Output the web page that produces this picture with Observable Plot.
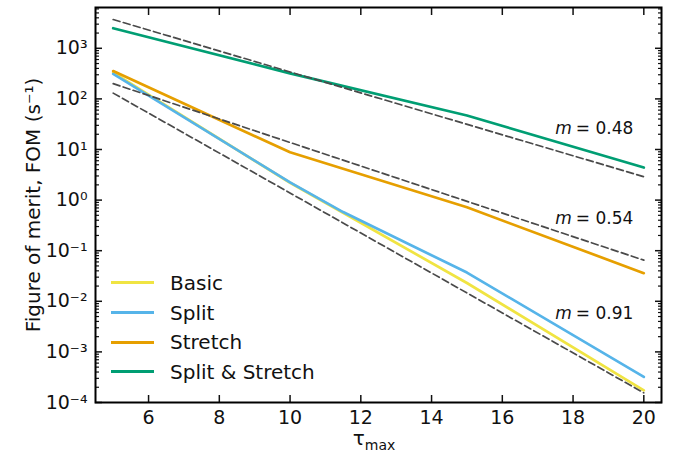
<!DOCTYPE html>
<html><head><meta charset="utf-8">
<script src="https://cdn.jsdelivr.net/npm/d3@7"></script>
<script src="https://cdn.jsdelivr.net/npm/@observablehq/plot@0.6"></script>
<style>
html,body{margin:0;padding:0;background:#fff;}
#wrap{position:relative;width:689px;height:462px;font-family:"DejaVu Sans",sans-serif;}
.legend{position:absolute;left:111px;top:268px;font-size:20px;color:#111;}
.item{display:flex;align-items:center;height:29.7px;}
.sw{width:43px;height:3px;margin-right:16px;}
</style></head><body><div id="wrap"></div>
<script>
// ---- data ----
const seriesNames  = ["Basic", "Split", "Stretch", "Split & Stretch"];
const seriesColors = ["#f0e442", "#56b4e9", "#e69f00", "#009e73"];

const tauBasic = [5, 10, 15, 20];
const fomBasic = [330, 2.2, 0.023, 1.74e-4];
const tauSplit = [5, 10, 11.5, 15, 20];
const fomSplit = [311, 2.24, 0.58, 0.037, 3.2e-4];
const tauStretch = [5, 10, 15, 20];
const fomStretch = [355, 8.8, 0.72, 0.036];
const tauSplitStretch = [5, 10, 15, 20];
const fomSplitStretch = [2490, 320, 47, 4.4];

// exponential fits (dashed), endpoints
const fitSlopes = ["0.48", "0.54", "0.91"];
const fitTau = [5, 20];
const fitStart = [3700, 200, 130];
const fitEnd = [2.9, 0.065, 1.55e-4];
const annTau = [18.02, 18.02, 18.02];
const annFom = [25.7, 0.43, 0.0056];

const xTicks = [6, 8, 10, 12, 14, 16, 18, 20];
const yMajor = [1e-4, 1e-3, 1e-2, 1e-1, 1, 10, 100, 1000];
const yMinorMult = [2, 3, 4, 5, 6, 7, 8, 9];
const xDomain = [4.5, 20.5];
const yDomain = [1e-4, 6400];

// ---- build tables ----
const seriesTau = [tauBasic, tauSplit, tauStretch, tauSplitStretch];
const seriesFom = [fomBasic, fomSplit, fomStretch, fomSplitStretch];
const lines = [];
seriesNames.forEach((name, i) => {
  seriesTau[i].forEach((t, j) => lines.push({series: name, tau: t, fom: seriesFom[i][j]}));
});
const fits = [];
fitSlopes.forEach((m, i) => {
  fits.push({fit: m, tau: fitTau[0], fom: fitStart[i]});
  fits.push({fit: m, tau: fitTau[1], fom: fitEnd[i]});
});
const ann = fitSlopes.map((m, i) => ({m, tau: annTau[i], fom: annFom[i]}));
const yMinor = [];
yMajor.forEach(d => yMinorMult.forEach(k => { const v = k * d; if (v <= yDomain[1]) yMinor.push(v); }));

const supMap = {"-": "\u207B", "0": "\u2070", "1": "\u00B9", "2": "\u00B2", "3": "\u00B3", "4": "\u2074", "5": "\u2075", "6": "\u2076", "7": "\u2077", "8": "\u2078", "9": "\u2079"};
const supFormat = d => "10" + String(Math.round(Math.log10(d))).split("").map(c => supMap[c]).join("");

const W = 689, H = 462, mL = 95, mR = 28, mT = 7, mB = 60;

const chart = Plot.plot({
  width: W, height: H,
  marginLeft: mL, marginRight: mR, marginTop: mT, marginBottom: mB,
  style: {fontFamily: "DejaVu Sans, sans-serif", fontSize: "19px", background: "white", color: "#111"},
  x: {domain: xDomain},
  y: {type: "log", domain: yDomain},
  color: {domain: seriesNames, range: seriesColors},
  marks: [
    Plot.line(lines, {x: "tau", y: "fom", z: "series", stroke: "series", strokeWidth: 2.7}),
    Plot.line(fits, {x: "tau", y: "fom", z: "fit", stroke: "#4a4a4a", strokeWidth: 1.7, strokeDasharray: "7,3.5"}),
    Plot.text(ann, {x: "tau", y: "fom", text: () => "m", textAnchor: "end", dx: -2, fontStyle: "italic", fontSize: 17, fill: "#111"}),
    Plot.text(ann, {x: "tau", y: "fom", text: d => "= " + d.m, textAnchor: "start", dx: 2, fontSize: 17, fill: "#111"}),
    Plot.axisX(xTicks, {anchor: "bottom", tickSize: -7, tickPadding: 15, tickFormat: d => String(d), label: null, fontSize: 19, strokeWidth: 1.5}),
    Plot.axisX(xTicks, {anchor: "top", tickSize: -7, tickFormat: () => "", label: null, strokeWidth: 1.5}),
    Plot.axisY(yMajor, {anchor: "left", tickSize: -7, tickPadding: 15, tickFormat: supFormat, label: null, fontSize: 19, strokeWidth: 1.5}),
    Plot.axisY(yMinor, {anchor: "left", tickSize: -4, tickFormat: () => "", label: null, strokeWidth: 1.2}),
    Plot.axisY(yMajor, {anchor: "right", tickSize: -7, tickFormat: () => "", label: null, strokeWidth: 1.5}),
    Plot.axisY(yMinor, {anchor: "right", tickSize: -4, tickFormat: () => "", label: null, strokeWidth: 1.2}),
    Plot.text(["Figure of merit, FOM (s\u207B\u00B9)"], {frameAnchor: "left", textAnchor: "middle", text: d => d, rotate: -90, dx: -62, fontSize: 20, fill: "#111"}),
    Plot.frame({stroke: "black", strokeWidth: 2})
  ]
});

// x axis label with subscript
const svg = d3.select(chart);
const xl = svg.append("text")
  .attr("x", mL + (W - mL - mR) / 2 - 4)
  .attr("y", 445)
  .attr("text-anchor", "middle")
  .attr("font-family", "DejaVu Sans, sans-serif")
  .attr("font-size", 20)
  .attr("fill", "#111");
xl.append("tspan").text("\u03C4");
xl.append("tspan").attr("font-size", 14).attr("dy", 5).text("max");

const wrap = document.getElementById("wrap");
wrap.appendChild(chart);

// legend
const leg = document.createElement("div");
leg.className = "legend";
seriesNames.forEach((n, i) => {
  const it = document.createElement("div"); it.className = "item";
  const sw = document.createElement("span"); sw.className = "sw"; sw.style.background = seriesColors[i];
  const tx = document.createElement("span"); tx.textContent = n;
  it.appendChild(sw); it.appendChild(tx); leg.appendChild(it);
});
wrap.appendChild(leg);
</script>
</body></html>
